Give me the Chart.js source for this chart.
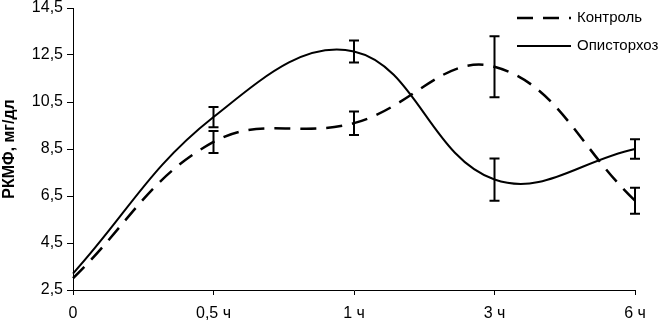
<!DOCTYPE html>
<html>
<head>
<meta charset="utf-8">
<script src="https://cdn.jsdelivr.net/npm/chart.js@4/dist/chart.umd.min.js"></script>
<style>
  html, body { margin: 0; padding: 0; background: #fff; }
  #wrap { width: 671px; height: 325px; position: relative; }
</style>
</head>
<body>
<div id="wrap"><canvas id="myChart"></canvas></div>
<script>
// данные с графика
var categories = ['0', '0,5 ч', '1 ч', '3 ч', '6 ч'];
var control = [3.0, 8.8, 9.6, 12.0, 6.3];
var controlErr = [0, 0.47, 0.5, 1.3, 0.55];
var opist = [3.2, 9.86, 12.65, 7.2, 8.5];
var opistErr = [0, 0.43, 0.47, 0.9, 0.42];
var yTicks = [2.5, 4.5, 6.5, 8.5, 10.5, 12.5, 14.5];

var FONT = 'Liberation Sans, Arial, sans-serif';

// усы погрешностей
const errorBars = {
    id: 'errorBars',
    afterDatasetsDraw(chart) {
        const ctx = chart.ctx;
        const y = chart.scales.y;
        chart.data.datasets.forEach((ds, i) => {
            const meta = chart.getDatasetMeta(i);
            ctx.save();
            ctx.strokeStyle = '#000';
            ctx.lineWidth = 2;
            ctx.setLineDash([]);
            meta.data.forEach((pt, k) => {
                const e = ds.errors[k];
                if (!e) return;
                const top = y.getPixelForValue(ds.data[k] + e);
                const bot = y.getPixelForValue(ds.data[k] - e);
                ctx.beginPath();
                ctx.moveTo(pt.x, top); ctx.lineTo(pt.x, bot);
                ctx.moveTo(pt.x - 5, top); ctx.lineTo(pt.x + 5, top);
                ctx.moveTo(pt.x - 5, bot); ctx.lineTo(pt.x + 5, bot);
                ctx.stroke();
            });
            ctx.restore();
        });
    }
};

// легенда внутри области графика
const innerLegend = {
    id: 'innerLegend',
    afterDraw(chart) {
        const ctx = chart.ctx;
        const x0 = chart.chartArea.right - 118;
        const y0 = chart.chartArea.top + 10;
        ctx.save();
        ctx.font = '15px ' + FONT;
        ctx.fillStyle = '#000';
        ctx.textBaseline = 'middle';
        chart.data.datasets.forEach((ds, i) => {
            const yy = y0 + i * 28;
            ctx.strokeStyle = '#000';
            ctx.lineWidth = ds.borderWidth;
            ctx.setLineDash(ds.borderDash || []);
            ctx.beginPath();
            ctx.moveTo(x0, yy); ctx.lineTo(x0 + 54, yy);
            ctx.stroke();
            ctx.setLineDash([]);
            ctx.fillText(ds.label, x0 + 60, yy);
        });
        ctx.restore();
    }
};

var ctx = document.getElementById('myChart').getContext('2d');
var myChart = new Chart(ctx, {
    type: 'line',
    data: {
        labels: categories,
        datasets: [{
            label: 'Контроль',
            data: control,
            errors: controlErr,
            borderColor: '#000',
            borderWidth: 2.5,
            borderDash: [16, 10],
            tension: 0.4,
            pointRadius: 0,
            fill: false
        }, {
            label: 'Описторхоз',
            data: opist,
            errors: opistErr,
            borderColor: '#000',
            borderWidth: 2,
            tension: 0.4,
            pointRadius: 0,
            fill: false
        }]
    },
    options: {
        responsive: true,
        maintainAspectRatio: false,
        animation: false,
        layout: { padding: { top: 7, right: 36, left: 0, bottom: 0 } },
        plugins: {
            legend: { display: false },
            tooltip: { enabled: false }
        },
        scales: {
            x: {
                offset: false,
                grid: { display: true, drawOnChartArea: false, drawTicks: true, tickLength: 5, color: '#000' },
                border: { display: true, color: '#000', width: 1 },
                ticks: { color: '#000', font: { family: FONT, size: 16 }, padding: 9, maxRotation: 0 },
                afterFit: function (s) { s.height = 35; }
            },
            y: {
                min: 2.5,
                max: 14.5,
                afterBuildTicks: function (s) { s.ticks = yTicks.map(v => ({ value: v })); },
                grid: { display: true, drawOnChartArea: false, drawTicks: true, tickLength: 6, color: '#000' },
                border: { display: true, color: '#000', width: 1 },
                ticks: {
                    color: '#000',
                    font: { family: FONT, size: 16, lineHeight: 0.5 },
                    padding: 4,
                    callback: function (v) { return v.toFixed(1).replace('.', ','); }
                },
                title: {
                    display: true,
                    text: 'РКМФ, мг/дл',
                    color: '#000',
                    font: { family: FONT, size: 16, weight: 'bold' },
                    padding: { top: 0, bottom: 0 }
                },
                afterFit: function (s) { s.width = 73; }
            }
        }
    },
    plugins: [errorBars, innerLegend]
});
</script>
</body>
</html>
